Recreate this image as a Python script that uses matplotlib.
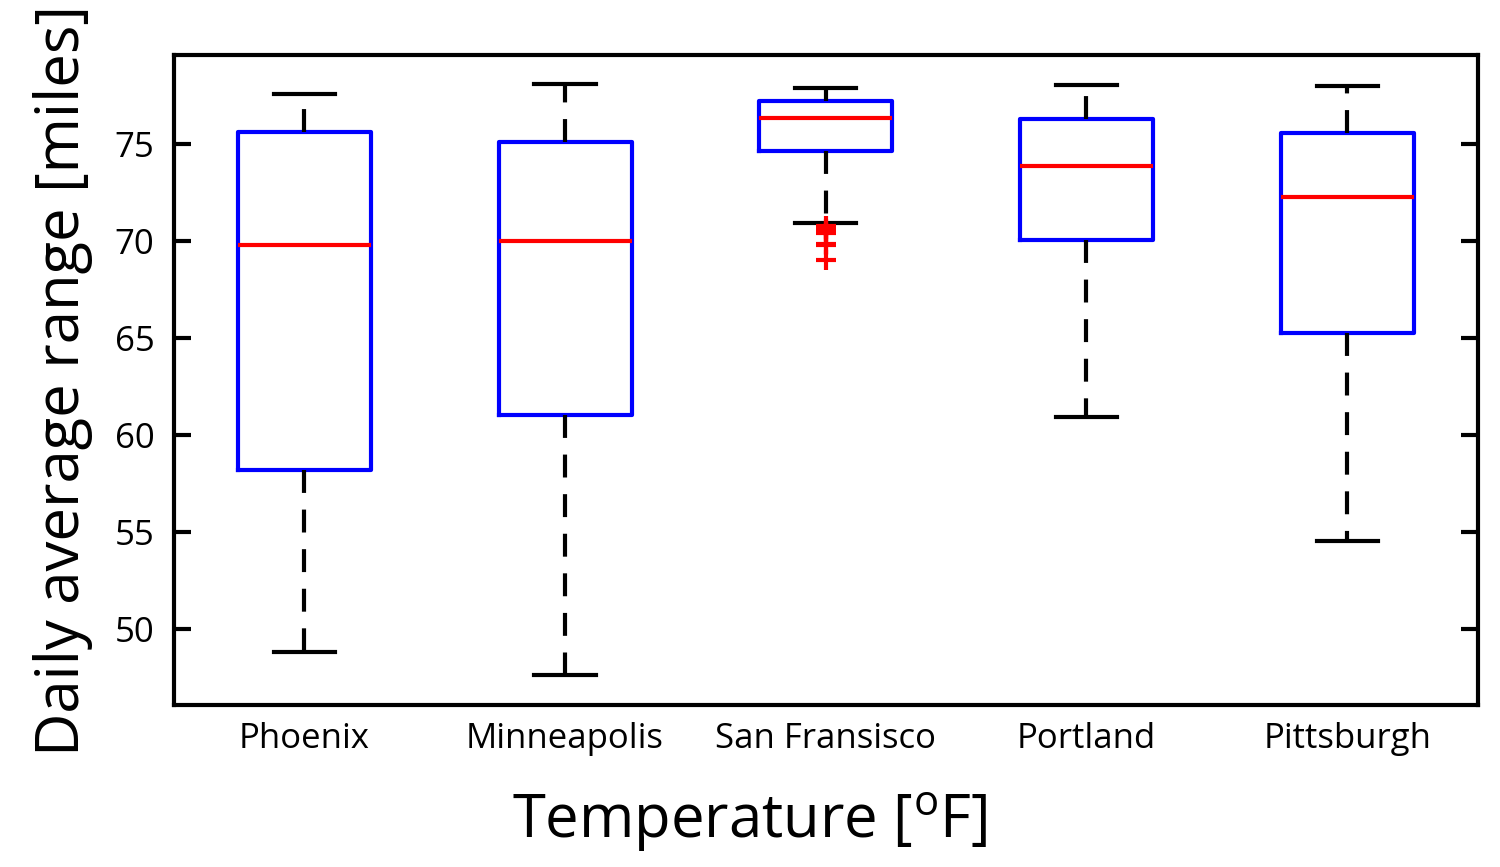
import numpy as np
import matplotlib.pyplot as plt

plt.rcParams['font.family'] = ['Open Sans', 'DejaVu Sans']
plt.rcParams['mathtext.default'] = 'regular'

# box statistics
cities = ['Phoenix', 'Minneapolis', 'San Fransisco', 'Portland', 'Pittsburgh']
whisker_low = [48.8, 47.6, 70.9, 60.9, 54.5]
q1 = [58.2, 61.0, 74.6, 70.05, 65.25]
median = [69.75, 70.0, 76.3, 73.85, 72.25]
q3 = [75.6, 75.1, 77.2, 76.25, 75.55]
whisker_high = [77.55, 78.05, 77.85, 78.0, 77.95]
outliers = [[], [], [70.75, 70.6, 70.5, 70.4, 69.85, 69.75, 69.0], [], []]

stats = []
for i in range(len(cities)):
    stats.append({'label': cities[i], 'whislo': whisker_low[i], 'q1': q1[i],
                  'med': median[i], 'q3': q3[i], 'whishi': whisker_high[i],
                  'fliers': outliers[i]})

fig = plt.figure(figsize=(15, 8.67), dpi=100)
ax = fig.add_axes([0.116, 0.187, 0.869, 0.749])

ax.bxp(stats, widths=0.51, capwidths=0.235,
       boxprops=dict(color='#0000ff', linewidth=3),
       medianprops=dict(color='#ff0000', linewidth=3),
       whiskerprops=dict(color='black', linewidth=3, linestyle=(0, (5.5, 4))),
       capprops=dict(color='black', linewidth=3),
       flierprops=dict(marker='+', markeredgecolor='#ff0000', markersize=14,
                       markeredgewidth=3, linestyle='none'))

ax.set_xlim(0.5, 5.5)
ax.set_ylim(46.08, 79.54)
ax.set_yticks([50, 55, 60, 65, 70, 75])
ax.tick_params(axis='y', direction='in', length=12, width=3, right=True,
               labelsize=25, pad=14)
ax.tick_params(axis='x', length=0, labelsize=25, pad=12)
for s in ax.spines.values():
    s.set_linewidth(3)

ax.set_xlabel(r'Temperature [$^{o}$F]', fontsize=43)
ax.xaxis.set_label_coords(0.5, 0.088, transform=fig.transFigure)
ax.set_ylabel('Daily average range [miles]', fontsize=43, labelpad=16)

fig.savefig('out.png', dpi=100, facecolor='white')
